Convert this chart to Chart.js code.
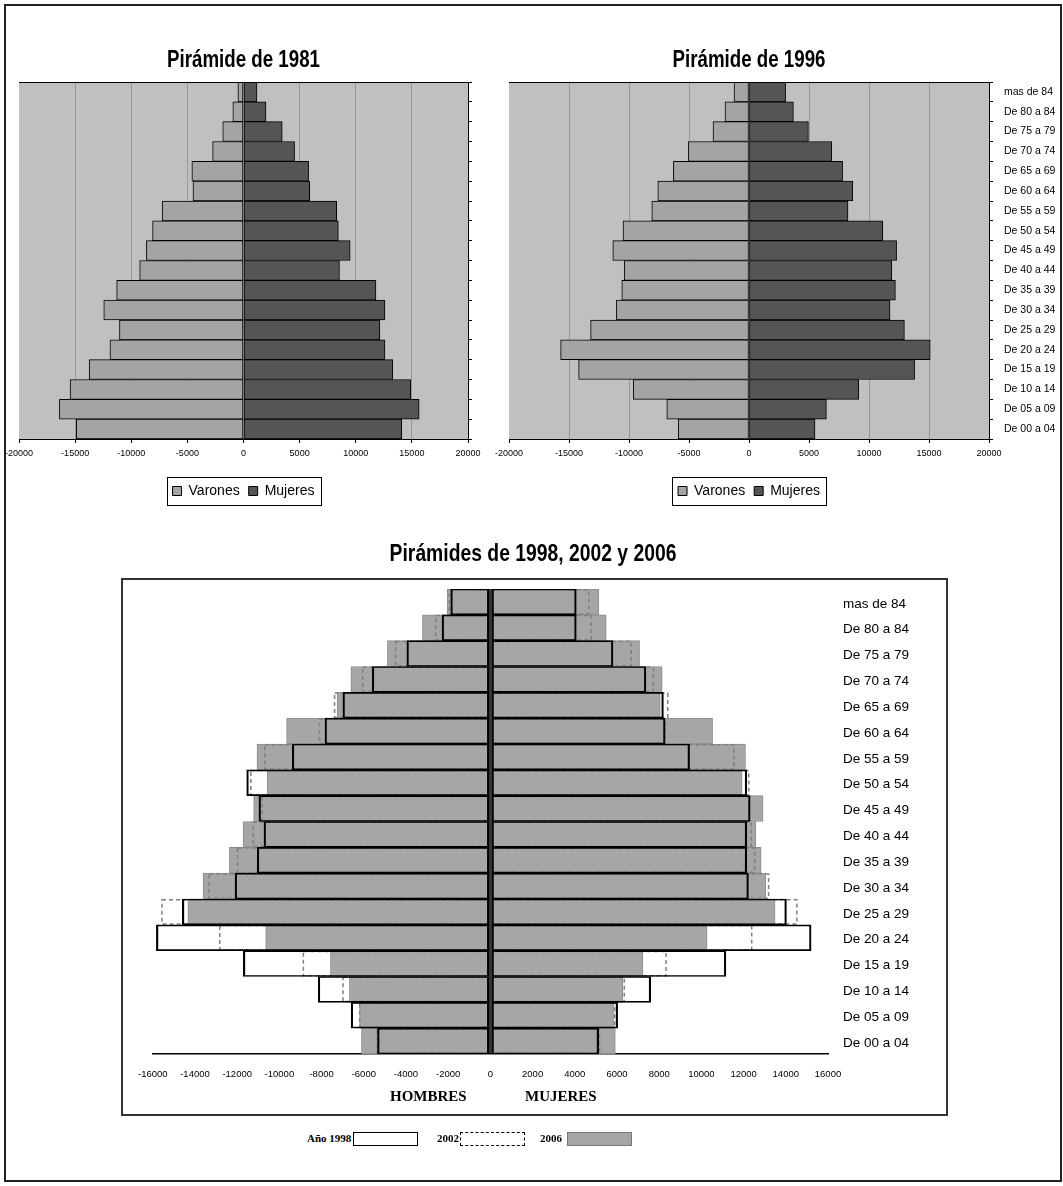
<!DOCTYPE html>
<html>
<head>
<meta charset="utf-8">
<title>Pirámides de población</title>
<script src="https://cdn.jsdelivr.net/npm/chart.js"></script>
<style>
  body { margin: 0; background: #fff; font-family: 'Liberation Sans', Arial, sans-serif; }
  #page { position: relative; width: 1063px; height: 1186px; overflow: hidden; }
  .frame { position: absolute; left: 4px; top: 4px; width: 1058px; height: 1178px; box-sizing: border-box; border: 2px solid #222; }
  .box3 { position: absolute; left: 121px; top: 578px; width: 827px; height: 538px; box-sizing: border-box; border: 2px solid #333; }
  canvas { position: absolute; }
  .lbl { position: absolute; font-family: 'Liberation Serif', 'Times New Roman', serif; font-weight: bold; color: #000; white-space: nowrap; }
  .sw { position: absolute; box-sizing: border-box; top: 1132px; height: 14px; width: 65px; }
</style>
</head>
<body>
<div id="page">
  <div class="frame"></div>
  <div class="box3"></div>
  <canvas id="c1981" width="500" height="510" style="left:0;top:10px"></canvas>
  <canvas id="c1996" width="570" height="510" style="left:490px;top:10px"></canvas>
  <canvas id="c3" width="822" height="588" style="left:123px;top:525px"></canvas>

  <div class="lbl" style="left:390px;top:1089px;font-size:15px;line-height:15px">HOMBRES</div>
  <div class="lbl" style="left:525px;top:1089px;font-size:15px;line-height:15px">MUJERES</div>

  <div class="lbl" style="left:307px;top:1133px;font-size:11px;line-height:11px">Año 1998</div>
  <div class="sw" style="left:353px;border:1px solid #000;background:#fff"></div>
  <div class="lbl" style="left:437px;top:1133px;font-size:11px;line-height:11px">2002</div>
  <div class="sw" style="left:460px;border:1px dashed #000;background:#fff"></div>
  <div class="lbl" style="left:540px;top:1133px;font-size:11px;line-height:11px">2006</div>
  <div class="sw" style="left:567px;border:1px solid #777;background:#a6a6a6"></div>
</div>

<script>
// grupos de edad, de arriba abajo
var grupos = ['mas de 84', 'De 80 a 84', 'De 75 a 79', 'De 70 a 74', 'De 65 a 69', 'De 60 a 64',
  'De 55 a 59', 'De 50 a 54', 'De 45 a 49', 'De 40 a 44', 'De 35 a 39', 'De 30 a 34',
  'De 25 a 29', 'De 20 a 24', 'De 15 a 19', 'De 10 a 14', 'De 05 a 09', 'De 00 a 04'];

var varones1981 = [-500, -950, -1850, -2750, -4600, -4500, -7250, -8100, -8650, -9250, -11300, -12450, -11050, -11900, -13750, -15450, -16400, -14900];
var mujeres1981 = [1200, 2000, 3450, 4550, 5800, 5900, 8300, 8450, 9500, 8550, 11800, 12600, 12150, 12600, 13300, 14900, 15650, 14100];

var varones1996 = [-1250, -2000, -3000, -5050, -6300, -7600, -8100, -10500, -11350, -10400, -10600, -11050, -13200, -15700, -14200, -9650, -6850, -5900];
var mujeres1996 = [3050, 3700, 4950, 6900, 7800, 8650, 8250, 11150, 12300, 11900, 12200, 11750, 12950, 15100, 13800, 9150, 6450, 5500];

var hombres1998 = [-1880, -2290, -3960, -5600, -6990, -7840, -9390, -11550, -10970, -10730, -11050, -12100, -14600, -15830, -11710, -8160, -6600, -5350];
var hombres2002 = [-1980, -2630, -4530, -6090, -7420, -8130, -10730, -11390, -10860, -11280, -12020, -13370, -15600, -12860, -8900, -7020, -6230, -5400];
var hombres2006 = [-2050, -3220, -4880, -6610, -7260, -9660, -11060, -10570, -11220, -11720, -12370, -13620, -14340, -10650, -7580, -6680, -6200, -6110];

var mujeres1998 = [4070, 4070, 5810, 7370, 8200, 8280, 9440, 12150, 12310, 12150, 12150, 12230, 14030, 15200, 11160, 7600, 6030, 5130];
var mujeres2002 = [4700, 4810, 6710, 7760, 8440, 8320, 11580, 12280, 12310, 12400, 12560, 13220, 14560, 12420, 8360, 6380, 5920, 5210];
var mujeres2006 = [5140, 5490, 7070, 8140, 8050, 10530, 12090, 11930, 12920, 12580, 12830, 13050, 13490, 10270, 7230, 6270, 5840, 5920];

Chart.defaults.font.family = "'Liberation Sans', Arial, sans-serif";
Chart.defaults.color = '#000';
Chart.defaults.animation = false;

// titulo en negrita estrecha (no hay fuente condensada instalada)
var tituloEstrecho = {
  id: 'tituloEstrecho',
  afterDraw: function (chart, args, o) {
    var ctx = chart.ctx, a = chart.chartArea;
    ctx.save();
    ctx.font = "bold 24px 'Liberation Sans', Arial, sans-serif";
    ctx.fillStyle = '#000';
    ctx.textAlign = 'center';
    ctx.textBaseline = 'alphabetic';
    ctx.translate(o.x != null ? o.x : (a.left + a.right) / 2, o.y);
    ctx.scale(o.escala, 1);
    ctx.fillText(o.text, 0, 0);
    ctx.restore();
  }
};

// fondo gris del area, linea superior y recuadro de la leyenda
var marco = {
  id: 'marco',
  beforeDraw: function (chart) {
    var a = chart.chartArea, ctx = chart.ctx;
    ctx.save();
    ctx.fillStyle = '#c0c0c0';
    ctx.fillRect(a.left, a.top, a.right - a.left, a.bottom - a.top);
    ctx.restore();
  },
  afterDraw: function (chart) {
    var a = chart.chartArea, ctx = chart.ctx;
    ctx.save();
    ctx.strokeStyle = '#000';
    ctx.lineWidth = 1;
    ctx.beginPath();
    ctx.moveTo(a.left, a.top + 0.5);
    ctx.lineTo(a.right, a.top + 0.5);
    ctx.stroke();
    var hb = chart.legend.legendHitBoxes;
    var x0 = Math.min.apply(null, hb.map(function (b) { return b.left; }));
    var x1 = Math.max.apply(null, hb.map(function (b) { return b.left + b.width; }));
    var y0 = Math.min.apply(null, hb.map(function (b) { return b.top; }));
    var y1 = Math.max.apply(null, hb.map(function (b) { return b.top + b.height; }));
    ctx.strokeRect(Math.round(x0 - 6) + 0.5, Math.round(y0 - 7) + 0.5, Math.round(x1 - x0 + 12), Math.round(y1 - y0 + 14));
    ctx.restore();
  }
};

function piramide(id, titulo, varones, mujeres, etiquetas, izq, anchoEje) {
  return new Chart(document.getElementById(id), {
    type: 'bar',
    data: {
      labels: grupos,
      datasets: [
        { label: 'Varones', data: varones, backgroundColor: '#a4a4a4', borderColor: '#000', borderWidth: 1,
          borderSkipped: false, grouped: false, categoryPercentage: 1, barPercentage: 1 },
        { label: 'Mujeres', data: mujeres, backgroundColor: '#555555', borderColor: '#000', borderWidth: 1,
          borderSkipped: false, grouped: false, categoryPercentage: 1, barPercentage: 1 }
      ]
    },
    options: {
      indexAxis: 'y',
      responsive: false,
      layout: { padding: { left: izq, right: 0, top: 72, bottom: 12 } },
      scales: {
        x: {
          min: -20000, max: 20000,
          ticks: { stepSize: 5000, font: { size: 9 }, padding: 5, maxRotation: 0,
            callback: function (v) { return String(v); } },
          grid: {
            color: function (c) { return c.tick && c.tick.value === -20000 ? 'rgba(0,0,0,0)' : '#999999'; },
            tickColor: '#000', tickLength: 4
          },
          border: { color: '#000' },
          afterFit: function (s) { s.height = 36; }
        },
        y: {
          position: 'right',
          ticks: { display: etiquetas, font: { size: 10.5 }, padding: 11 },
          grid: { drawOnChartArea: false, tickColor: '#000', tickLength: 4 },
          border: { color: '#000' },
          afterFit: function (s) { s.width = anchoEje; }
        }
      },
      plugins: {
        tituloEstrecho: { text: titulo, y: 57, escala: 0.78 },
        legend: { position: 'bottom', fullSize: false,
          labels: { boxWidth: 9, boxHeight: 9, padding: 9, font: { size: 14 }, color: '#000' } },
        tooltip: { enabled: false }
      }
    },
    plugins: [marco, tituloEstrecho]
  });
}

piramide('c1981', 'Pirámide de 1981', varones1981, mujeres1981, false, 16, 32);
piramide('c1996', 'Pirámide de 1996', varones1996, mujeres1996, true, 19, 71);

// contorno discontinuo de 2002, dibujado entre 2006 y 1998
var discontinua = {
  id: 'discontinua',
  afterDatasetDraw: function (chart, args) {
    if (args.index !== 2 && args.index !== 3) return;
    var ctx = chart.ctx, lw = 1.5;
    ctx.save();
    ctx.strokeStyle = '#808080';
    ctx.lineWidth = lw;
    ctx.setLineDash([4, 3]);
    args.meta.data.forEach(function (bar) {
      var p = bar.getProps(['x', 'y', 'base', 'height'], true);
      var l = Math.min(p.x, p.base), r = Math.max(p.x, p.base);
      var t = p.y - p.height / 2;
      ctx.strokeRect(l + lw / 2, t + lw / 2, r - l - lw, p.height - lw);
    });
    ctx.restore();
  }
};

function serie(label, data, estilo) {
  var d = { label: label, data: data, grouped: false, categoryPercentage: 1, barPercentage: 1, borderSkipped: false };
  for (var k in estilo) d[k] = estilo[k];
  return d;
}

var e1998 = { backgroundColor: 'rgba(0,0,0,0)', borderColor: '#000', borderWidth: { left: 1.5, right: 1.5, top: 1, bottom: 1 } };
var e2002 = { backgroundColor: 'rgba(0,0,0,0)', borderWidth: 0 };
var e2006 = { backgroundColor: '#a6a6a6', borderColor: '#8c8c8c', borderWidth: 1 };

new Chart(document.getElementById('c3'), {
  type: 'bar',
  data: {
    labels: grupos,
    datasets: [
      serie('1998 hombres', hombres1998, e1998),
      serie('1998 mujeres', mujeres1998, e1998),
      serie('2002 hombres', hombres2002, e2002),
      serie('2002 mujeres', mujeres2002, e2002),
      serie('2006 hombres', hombres2006, e2006),
      serie('2006 mujeres', mujeres2006, e2006)
    ]
  },
  options: {
    indexAxis: 'y',
    responsive: false,
    layout: { padding: { left: 29, right: 31, top: 64, bottom: 0 } },
    scales: {
      x: {
        min: -16000, max: 16000, z: 1,
        ticks: { stepSize: 2000, font: { size: 9.5 }, padding: 15, maxRotation: 0,
          callback: function (v) { return String(v); } },
        grid: {
          drawTicks: false,
          color: function (c) { return c.tick && c.tick.value === 0 ? '#333' : 'rgba(0,0,0,0)'; },
          lineWidth: function (c) { return c.tick && c.tick.value === 0 ? 3 : 1; }
        },
        border: { color: '#000', width: 1.5 },
        afterFit: function (s) { s.height = 59; }
      },
      y: {
        position: 'right',
        ticks: { font: { size: 13.5 }, padding: 15, labelOffset: 2 },
        grid: { display: false, drawTicks: false },
        border: { display: false },
        afterFit: function (s) { s.width = 86; }
      }
    },
    plugins: {
      tituloEstrecho: { text: 'Pirámides de 1998, 2002 y 2006', x: 410, y: 36, escala: 0.805 },
      legend: { display: false },
      tooltip: { enabled: false }
    }
  },
  plugins: [discontinua, tituloEstrecho]
});
</script>
</body>
</html>
